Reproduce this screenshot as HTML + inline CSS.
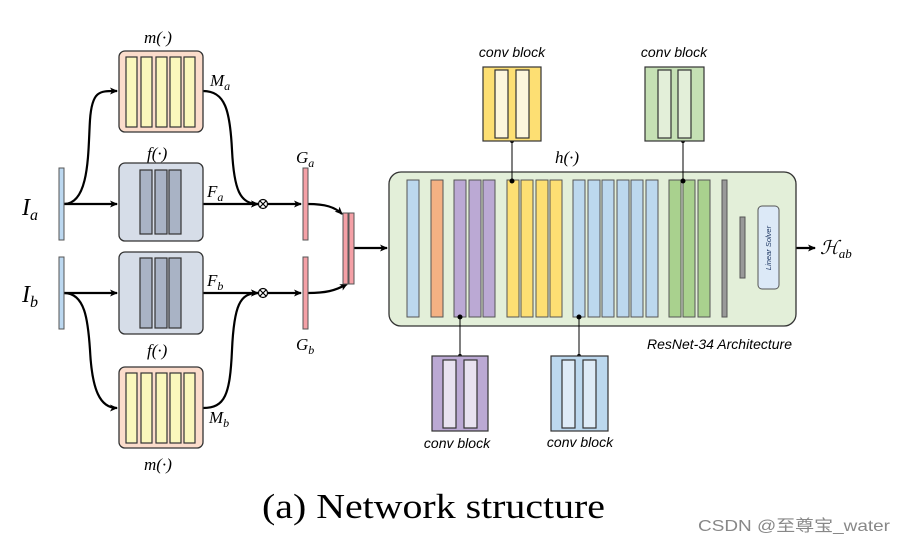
<!DOCTYPE html>
<html><head><meta charset="utf-8"><style>
body{margin:0;background:#fff}
svg{display:block}
.m{font-family:"Liberation Serif",serif;font-style:italic;fill:#000}
.s{font-family:"Liberation Sans",sans-serif;font-style:italic;fill:#000}
</style></head><body>
<svg width="902" height="544" viewBox="0 0 902 544" xmlns="http://www.w3.org/2000/svg">
<defs>
<marker id="ar" markerWidth="8" markerHeight="8" refX="7" refY="4" orient="auto" markerUnits="userSpaceOnUse">
<path d="M0,0.5 L8,4 L0,7.5 L2,4 Z" fill="#000"/></marker>
</defs>
<g stroke="#000" stroke-width="2.2" fill="none">
<path d="M64,204 L117,204" marker-end="url(#ar)"/>
<path d="M64,204 C90,204 88,150 90,120 C92,90 100,91 117,91" marker-end="url(#ar)"/>
<path d="M203,91 C225,91 230,110 232,150 C234,190 240,204 258,204" marker-end="url(#ar)"/>
<path d="M203,204 L258,204" marker-end="url(#ar)"/>
<path d="M268,204 L301,204" marker-end="url(#ar)"/>
<path d="M308,204 C325,204 335,207 342,214" marker-end="url(#ar)"/>
<path d="M64,293 L117,293" marker-end="url(#ar)"/>
<path d="M64,293 C85,293 88,320 90,350 C92,390 100,408 117,408" marker-end="url(#ar)"/>
<path d="M203,408 C225,408 230,395 232,350 C234,305 240,293 258,293" marker-end="url(#ar)"/>
<path d="M203,293 L258,293" marker-end="url(#ar)"/>
<path d="M268,293 L301,293" marker-end="url(#ar)"/>
<path d="M308,293 C325,293 335,291 347,284" marker-end="url(#ar)"/>
<path d="M354,248 L387,248" marker-end="url(#ar)"/>
<path d="M796,248 L815,248" marker-end="url(#ar)"/>
</g>
<g stroke="#000" stroke-width="1.2"><circle cx="263" cy="204" r="4.5" fill="#fff"/><path d="M260,201 L266,207 M266,201 L260,207"/>
<circle cx="263" cy="293" r="4.5" fill="#fff"/><path d="M260,290 L266,296 M266,290 L260,296"/></g>
<g stroke="#555" stroke-width="1">
<rect x="59" y="168" width="5" height="72" fill="#bcd8f0"/>
<rect x="59" y="257" width="5" height="72" fill="#bcd8f0"/>
<rect x="303" y="168" width="5" height="72" fill="#f4a0a6"/>
<rect x="303" y="257" width="5" height="72" fill="#f4a0a6"/>
<rect x="343" y="213" width="5" height="71" fill="#f4a0a6"/>
<rect x="349" y="213" width="5" height="71" fill="#f4a0a6"/>
</g>
<g stroke="#333" stroke-width="1.3">
<rect x="119" y="51" width="84" height="81" rx="6" fill="#fbdccb"/>
<rect x="119" y="367" width="84" height="81" rx="6" fill="#fbdccb"/>
<rect x="119" y="163" width="84" height="78" rx="6" fill="#d6dde8"/>
<rect x="119" y="252" width="84" height="82" rx="6" fill="#d6dde8"/>
</g>
<g stroke="#333" stroke-width="1.2" fill="#faf7bc">
<rect x="126" y="57" width="11" height="70"/><rect x="141" y="57" width="11" height="70"/><rect x="156" y="57" width="11" height="70"/><rect x="170" y="57" width="11" height="70"/><rect x="184" y="57" width="11" height="70"/>
<rect x="126" y="373" width="11" height="70"/><rect x="141" y="373" width="11" height="70"/><rect x="156" y="373" width="11" height="70"/><rect x="170" y="373" width="11" height="70"/><rect x="184" y="373" width="11" height="70"/>
</g>
<g stroke="#333" stroke-width="1.2" fill="#a9b3c5">
<rect x="140" y="170" width="12" height="64"/><rect x="155" y="170" width="12" height="64"/><rect x="169" y="170" width="12" height="64"/>
<rect x="140" y="258" width="12" height="70"/><rect x="155" y="258" width="12" height="70"/><rect x="169" y="258" width="12" height="70"/>
</g>
<text class="m" x="144" y="43" font-size="17">m(·)</text>
<text class="m" x="147" y="159" font-size="17">f(·)</text>
<text class="m" x="147" y="356" font-size="17">f(·)</text>
<text class="m" x="144" y="470" font-size="17">m(·)</text>
<text class="m" x="210" y="86" font-size="17">M<tspan font-size="12" dy="4">a</tspan></text>
<text class="m" x="209" y="423" font-size="17">M<tspan font-size="12" dy="4">b</tspan></text>
<text class="m" x="207" y="197" font-size="17">F<tspan font-size="12" dy="4">a</tspan></text>
<text class="m" x="207" y="286" font-size="17">F<tspan font-size="12" dy="4">b</tspan></text>
<text class="m" x="296" y="163" font-size="17">G<tspan font-size="12" dy="4">a</tspan></text>
<text class="m" x="296" y="350" font-size="17">G<tspan font-size="12" dy="4">b</tspan></text>
<text class="m" x="22" y="215" font-size="24">I<tspan font-size="16" dy="5">a</tspan></text>
<text class="m" x="22" y="302" font-size="24">I<tspan font-size="16" dy="5">b</tspan></text>
<rect x="389" y="172" width="407" height="154" rx="12" fill="#e3efd9" stroke="#333" stroke-width="1.3"/>
<text class="m" x="555" y="163" font-size="17">h(·)</text>
<g stroke="#555" stroke-width="1">
<rect x="407" y="180" width="12" height="137" fill="#bcd8ee"/>
<rect x="431" y="180" width="12" height="137" fill="#f4b183"/>
<g fill="#bba9d4"><rect x="454" y="180" width="12" height="137"/><rect x="469" y="180" width="12" height="137"/><rect x="483" y="180" width="12" height="137"/></g>
<g fill="#fddf73"><rect x="507" y="180" width="12" height="137"/><rect x="521" y="180" width="12" height="137"/><rect x="536" y="180" width="12" height="137"/><rect x="550" y="180" width="12" height="137"/></g>
<g fill="#bcd8ee"><rect x="573" y="180" width="12" height="137"/><rect x="588" y="180" width="12" height="137"/><rect x="602" y="180" width="12" height="137"/><rect x="617" y="180" width="12" height="137"/><rect x="631" y="180" width="12" height="137"/><rect x="646" y="180" width="12" height="137"/></g>
<g fill="#a9d18e"><rect x="669" y="180" width="12" height="137"/><rect x="683" y="180" width="12" height="137"/><rect x="698" y="180" width="12" height="137"/></g>
<rect x="722" y="180" width="5" height="137" fill="#999"/>
<rect x="740" y="217" width="5" height="61" fill="#999"/>
<rect x="758" y="206" width="21" height="83" rx="4" fill="#dce9f7"/>
</g>
<text font-family="Liberation Sans,sans-serif" font-style="italic" font-size="7.5" fill="#1f3864" transform="translate(771,248) rotate(-90)" text-anchor="middle">Linear Solver</text>
<text class="m" x="820" y="254" font-size="19">ℋ<tspan font-size="13" dy="4">ab</tspan></text>
<text class="s" x="647" y="349" font-size="14" fill="#1a2340">ResNet-34 Architecture</text>
<g stroke="#000" stroke-width="1" fill="#000">
<line x1="512" y1="141" x2="512" y2="181"/><circle cx="512" cy="181" r="2"/>
<line x1="683" y1="141" x2="683" y2="181"/><circle cx="683" cy="181" r="2"/>
<line x1="460" y1="317" x2="460" y2="356"/><circle cx="460" cy="317" r="2"/><circle cx="460" cy="356" r="1.5"/>
<line x1="579" y1="317" x2="579" y2="356"/><circle cx="579" cy="317" r="2"/><circle cx="579" cy="356" r="1.5"/>
<circle cx="512" cy="141" r="1.5"/><circle cx="683" cy="141" r="1.5"/>
</g>
<g stroke="#333" stroke-width="1.2">
<rect x="483" y="67" width="58" height="74" fill="#fddf73"/>
<rect x="495" y="70" width="13" height="68" fill="#fdf6dc"/><rect x="516" y="70" width="13" height="68" fill="#fdf6dc"/>
<rect x="645" y="67" width="59" height="74" fill="#c5e0b4"/>
<rect x="658" y="70" width="13" height="68" fill="#e3efd9"/><rect x="678" y="70" width="13" height="68" fill="#e3efd9"/>
<rect x="432" y="356" width="56" height="75" fill="#bba9d4"/>
<rect x="443" y="360" width="13" height="68" fill="#e8e2f0"/><rect x="464" y="360" width="13" height="68" fill="#e8e2f0"/>
<rect x="551" y="356" width="57" height="75" fill="#bcd8ee"/>
<rect x="562" y="360" width="13" height="68" fill="#deebf7"/><rect x="583" y="360" width="13" height="68" fill="#deebf7"/>
</g>
<text class="s" x="512" y="57" font-size="14" text-anchor="middle">conv block</text>
<text class="s" x="674" y="57" font-size="14" text-anchor="middle">conv block</text>
<text class="s" x="457" y="448" font-size="14" text-anchor="middle">conv block</text>
<text class="s" x="580" y="447" font-size="14" text-anchor="middle">conv block</text>
<text x="262" y="518" font-family="Liberation Serif,serif" font-size="35" textLength="343" lengthAdjust="spacingAndGlyphs" fill="#000">(a) Network structure</text>
<text x="698" y="531" font-family="Liberation Sans,'Noto Sans CJK SC',sans-serif" font-size="16" fill="#888" textLength="192" lengthAdjust="spacingAndGlyphs">CSDN @至尊宝_water</text>
</svg>
</body></html>
